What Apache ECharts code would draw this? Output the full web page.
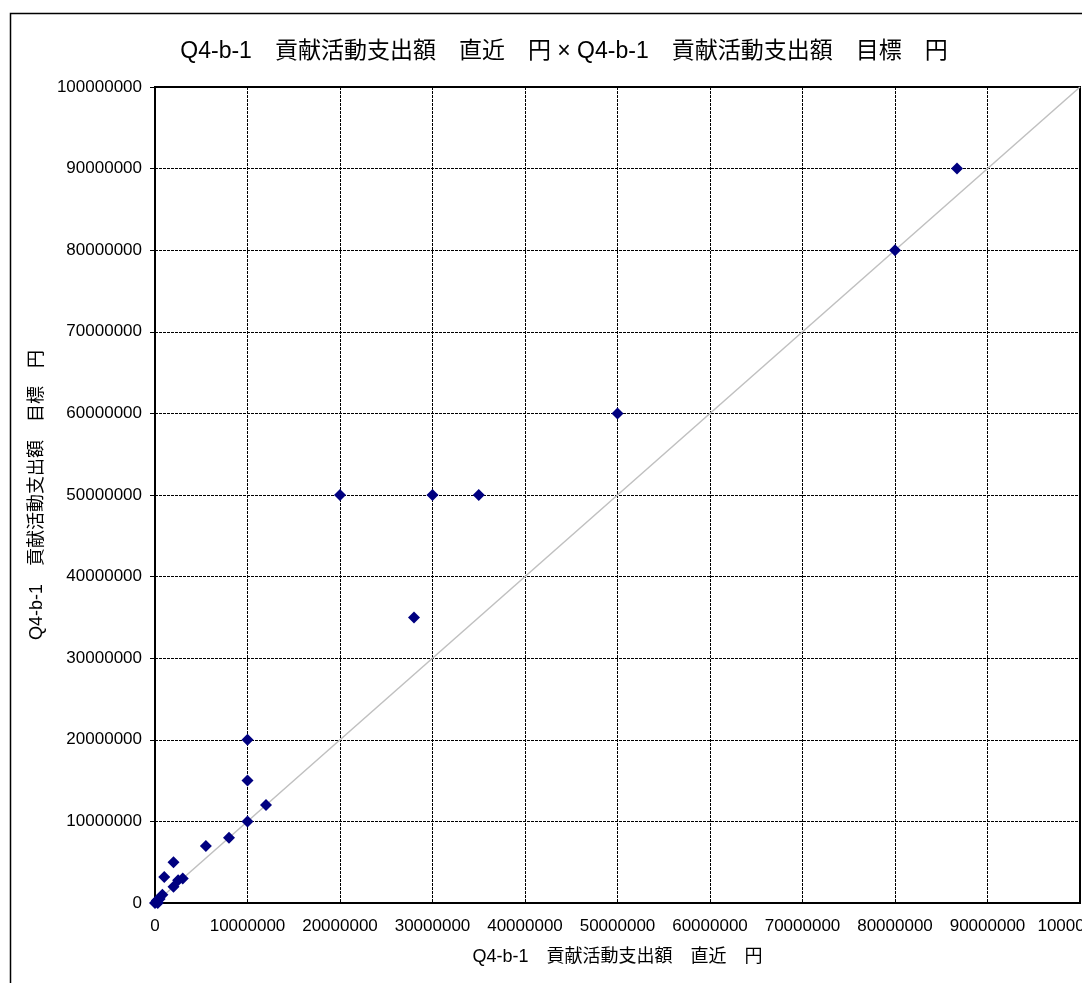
<!DOCTYPE html>
<html><head><meta charset="utf-8">
<script src="https://cdn.jsdelivr.net/npm/echarts@6/dist/echarts.min.js"></script>
<style>html,body{margin:0;padding:0;background:#fff;}#c{width:1082px;height:983px;}</style>
</head><body><div id="c"></div>
<script>
const titleText = 'Q4-b-1　貢献活動支出額　直近　円 × Q4-b-1　貢献活動支出額　目標　円';
const xName = 'Q4-b-1　貢献活動支出額　直近　円';
const yName = 'Q4-b-1　貢献活動支出額　目標　円';
const xValues = [0, 200000, 300000, 500000, 800000, 1000000, 2000000, 2000000, 2500000, 3000000, 5500000, 8000000, 10000000, 12000000, 10000000, 10000000, 20000000, 30000000, 35000000, 28000000, 50000000, 80000000, 86700000];
const yValues = [0, 300000, 0, 500000, 1000000, 3200000, 5000000, 2000000, 2800000, 3000000, 7000000, 8000000, 10000000, 12000000, 15000000, 20000000, 50000000, 50000000, 50000000, 35000000, 60000000, 80000000, 90000000];
const refLine = [0, 100000000];
const axisMin = 0, axisMax = 100000000, axisStep = 10000000;

const pts = xValues.map((x, i) => [x, yValues[i]]);
const chart = echarts.init(document.getElementById('c'));
const font = '"Liberation Sans", Arial, "Noto Sans CJK JP", sans-serif';
chart.setOption({
  animation: false,
  backgroundColor: '#fff',
  title: {
    text: titleText, left: 559, top: 35, textAlign: 'center',
    textStyle: { fontFamily: font, fontSize: 23, fontWeight: 'normal', color: '#000' }
  },
  graphic: [{
    type: 'rect', left: 8, top: 11, shape: { width: 1200, height: 1100 },
    style: { fill: 'none', stroke: '#000', lineWidth: 1.5 }, silent: true, z: -1
  }],
  grid: { left: 155, top: 87, right: 2, bottom: 80, containLabel: false, outerBoundsMode: 'none',
          show: true, borderColor: '#000', borderWidth: 2, backgroundColor: 'transparent' },
  xAxis: {
    type: 'value', min: axisMin, max: axisMax, interval: axisStep,
    name: xName, nameLocation: 'middle', nameGap: 45,
    nameTextStyle: { fontFamily: font, fontSize: 18, color: '#000' },
    axisLine: { show: true, lineStyle: { color: '#000', width: 2 } },
    axisTick: { show: false },
    axisLabel: { color: '#000', fontFamily: font, fontSize: 17, margin: 15, showMaxLabel: true,
                 formatter: v => String(v) },
    splitLine: { show: true, lineStyle: { color: '#000', type: [3, 1], width: 1 } }
  },
  yAxis: {
    type: 'value', min: axisMin, max: axisMax, interval: axisStep,
    name: yName, nameLocation: 'middle', nameGap: 106,
    nameTextStyle: { fontFamily: font, fontSize: 18, color: '#000' },
    axisLine: { show: true, lineStyle: { color: '#000', width: 2 } },
    axisTick: { show: true, length: 5, lineStyle: { color: '#000' } },
    axisLabel: { color: '#000', fontFamily: font, fontSize: 17, margin: 13,
                 formatter: v => String(v) },
    splitLine: { show: true, lineStyle: { color: '#000', type: [3, 1], width: 1 } }
  },
  series: [
    {
      type: 'line', data: refLine.map(v => [v, v]), symbol: 'none', silent: true,
      lineStyle: { color: '#c0c0c0', width: 1.5 }, z: 2
    },
    {
      type: 'scatter', data: pts, symbol: 'diamond', symbolSize: 12,
      itemStyle: { color: '#000080', opacity: 1 }, z: 3
    }
  ]
});
</script></body></html>
